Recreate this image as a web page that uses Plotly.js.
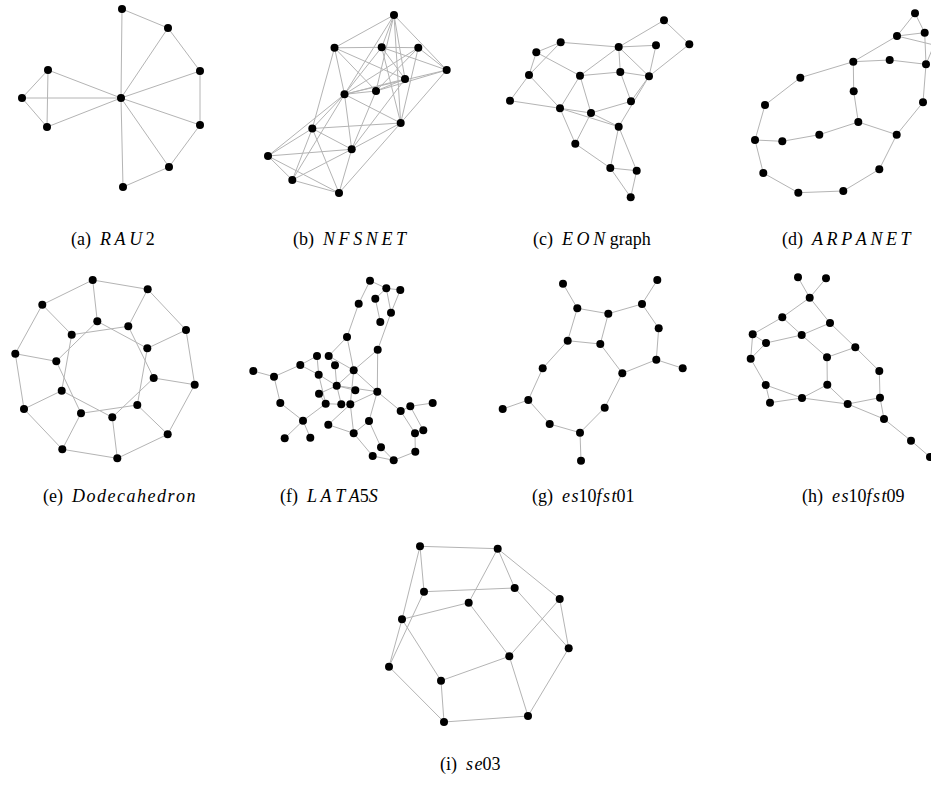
<!DOCTYPE html>
<html>
<head>
<meta charset="utf-8">
<script src="https://cdn.plot.ly/plotly-3.0.1.min.js"></script>
<style>html,body{margin:0;padding:0;background:#fff;}#chart{width:931px;height:789px;}</style>
</head>
<body>
<div id="chart"></div>
<script>
// ---- Data: node coordinates (local panel units) and edge lists ----
const rauX = [122,168,200,200,169,123,121,48,22,47];
const rauY = [9,28,71,125,167,187,98,70,98,127];
const rauEdges = [[0,1],[1,2],[2,3],[3,4],[4,5],[6,0],[6,1],[6,2],[6,3],[6,4],[6,5],[6,7],[6,8],[6,9],[7,8],[7,9],[8,9]];

const nsfX = [144,84.5,131.7,168.3,196.7,155,126,94.5,150.7,62.3,101.7,18,42.3,89];
const nsfY = [15,47.8,47.3,47.7,70,79,91,94.3,123,128.5,149.3,156,180,193];
const nsfEdges = [[0,1],[0,2],[0,4],[0,5],[0,6],[0,7],[0,8],[1,2],[1,5],[1,6],[1,7],[1,9],
  [2,3],[2,4],[2,5],[2,7],[2,8],[3,4],[3,6],[3,7],[3,8],[4,6],[4,7],[4,8],[5,6],[5,7],[5,10],
  [6,7],[6,10],[7,8],[7,9],[7,10],[7,11],[7,12],[8,9],[8,10],[8,13],[9,10],[9,11],[9,12],[9,13],
  [10,11],[10,12],[10,13],[11,12],[11,13],[12,13]];

const eonX = [169,194.3,161,123.7,65.7,41.3,34,85,125.3,154,15,65,96,136,123.7,80.3,115.3,141.7,135.7];
const eonY = [20.3,44.3,45.3,47,42.3,52.3,75,75.7,72,76.3,100.7,108.3,113,101.3,126.7,143.7,168,170.7,197.3];
const eonEdges = [[4,5],[4,3],[4,6],[5,6],[5,7],[6,10],[6,11],[10,11],[3,0],[3,2],[3,8],[3,9],[3,7],
  [0,1],[1,9],[2,9],[7,8],[8,9],[7,11],[7,12],[8,13],[9,13],[9,14],[12,13],[11,12],[11,14],[12,14],
  [11,15],[12,15],[14,16],[14,17],[15,16],[16,17],[16,18],[17,18]];

const arpX = [185,194.7,167,196,159.7,123.3,70.3,35,123.7,128.3,193,166.7,89.3,52.3,25,33.3,149.3,68.3,113.3,204];
const arpY = [13.3,32.7,36,64.3,60,61.7,77.7,105,91.3,122,102.3,134.7,134.7,141.3,140,173,169.3,192.7,191,45];
const arpEdges = [[0,1],[0,2],[1,2],[1,3],[2,19],[3,19],[2,5],[5,4],[4,3],[5,8],[8,9],[9,12],[9,11],
  [12,13],[13,14],[14,7],[7,6],[6,5],[14,15],[15,17],[17,18],[18,16],[16,11],[11,10],[10,3]];

const dodX = [92.7,147.7,186,194.7,167.7,117.3,62.3,24,15.3,42.3, 97.3,128.3,147.3,153.7,137.3,112.3,81,61.7,56.3,71.7];
const dodY = [15,24.3,65,119.7,169.3,193.3,184.3,144,88.7,39.7, 56.3,61.3,83.3,113,140,152.3,148.3,125.7,96.3,69.7];
const dodEdges = [[0,1],[1,2],[2,3],[3,4],[4,5],[5,6],[6,7],[7,8],[8,9],[9,0],
  [0,10],[1,11],[2,12],[3,13],[4,14],[5,15],[6,16],[7,17],[8,18],[9,19],
  [10,12],[11,13],[12,14],[13,15],[14,16],[15,17],[16,18],[17,19],[18,10],[19,11]];

const lataX = [130,146.3,160.3,135.3,118.7,151,140.3,107,137.7,77,88.7,13.3,60.3,95,34,78.7,113.7,96.7,115.3,137.3,
  79,40.3,85.7,101.3,110.3,160.7,170.3,192.7,63,88.3,129,113.7,44.7,70.3,175,183.3,141,132.7,153.7,175.3];
const lataY = [15.7,23.3,25,33.7,38.7,47.7,57,72,84.7,91,91,106,100,100.3,111.7,109.7,105.3,120.7,125.3,126.7,
  128.7,138,138.7,139.3,139.3,146,141.3,138,155.7,159.7,156,168.3,173.3,172.7,168.3,165.3,182.3,191,195.3,186.7];
const lataEdges = [[0,4],[0,1],[1,3],[1,2],[1,5],[2,5],[3,6],[5,8],[4,7],[7,10],[7,16],[8,16],[8,19],
  [11,14],[14,12],[12,9],[12,15],[14,21],[21,28],[28,32],[28,33],[28,22],[9,15],[10,16],[13,17],[15,17],
  [15,22],[17,20],[17,16],[17,18],[17,23],[17,19],[16,24],[16,19],[22,23],[24,19],[29,24],[29,31],[24,31],
  [31,30],[19,30],[19,25],[30,36],[31,37],[37,38],[38,39],[39,34],[34,35],[35,26],[25,34],[26,27],[25,26],
  [13,10],[20,22],[36,38]];

const es01X = [73,87.3,118.3,152,167.3,168.7,166.3,192.7,77.7,110.3,132.3,52.7,38.3,12.7,59.7,90,91,114.7];
const es01Y = [18.7,43.3,48.7,39,15,63.3,94.7,103.3,75.7,79,108.3,103.3,135,144,159,167.7,195.7,142.7];
const es01Edges = [[0,1],[1,2],[2,3],[3,4],[3,5],[5,6],[6,7],[6,10],[1,8],[2,9],[8,9],[9,10],[8,11],
  [11,12],[12,13],[12,14],[14,15],[15,16],[15,17],[17,10]];

const es09X = [67,95,78.7,51.3,99,21.7,35,70.7,124.3,19.7,96,148.3,34.7,96.3,39,71,116.7,149,153,180,199];
const es09Y = [12.3,13.3,32.7,52.3,58,69.3,78,70,82.3,93.7,92.3,106,120,119.7,137.7,133,139,132.7,154,175.7,192];
const es09Edges = [[0,2],[1,2],[2,3],[2,4],[3,5],[3,7],[5,6],[5,9],[6,9],[6,7],[7,4],[7,10],[4,8],[8,11],
  [10,8],[10,13],[9,12],[12,14],[12,15],[14,15],[13,15],[13,16],[15,16],[16,17],[11,17],[17,18],[16,18],
  [18,19],[19,20]];

const se03X = [60,137.7,64,154.7,108.7,199.7,42,208.7,149.3,29,81,84,168];
const se03Y = [41.3,43.7,86.7,83,97.7,94,114.3,143.3,151.3,161.7,175.7,217,211];
const se03Edges = [[0,1],[0,2],[0,6],[6,9],[2,9],[2,3],[1,3],[1,4],[1,5],[4,6],[4,8],[3,7],[5,8],[5,7],
  [6,10],[8,10],[9,11],[10,11],[8,12],[7,12],[11,12]];

// caption pieces: label, italic name parts
const captionLabels = ['(a)','(b)','(c)','(d)','(e)','(f)','(g)','(h)','(i)'];
const captionNames = [
  '<i>R\u2009A\u2009U</i>\u20092',
  '<i>N\u2009F\u2009S\u2009N\u2009E\u2009T</i>',
  '<i>E\u2009O\u2009N</i> graph',
  '<i>A\u2009R\u2009P\u2009A\u2009N\u2009E\u2009T</i>',
  '<i>D\u200Ao\u200Ad\u200Ae\u200Ac\u200Aa\u200Ah\u200Ae\u200Ad\u200Ar\u200Ao\u200An</i>',
  '<i>L\u2009A\u2009T\u2009A</i>5<i>S</i>',
  '<i>e\u200As</i>10<i>f\u200As\u200At</i>01',
  '<i>e\u200As</i>10<i>f\u200As\u200At</i>09',
  '<i>s\u200Ae</i>03'
];

// ---- Layout (panel boxes in page pixels) ----
const W = 931, H = 789;
const graphs = [
  {x:rauX, y:rauY, e:rauEdges, box:[0,0,230,200]},
  {x:nsfX, y:nsfY, e:nsfEdges, box:[250,0,220,200]},
  {x:eonX, y:eonY, e:eonEdges, box:[495,0,210,200]},
  {x:arpX, y:arpY, e:arpEdges, box:[730,0,201,200]},
  {x:dodX, y:dodY, e:dodEdges, box:[0,265,230,210]},
  {x:lataX, y:lataY, e:lataEdges, box:[240,265,210,210]},
  {x:es01X, y:es01Y, e:es01Edges, box:[490,265,210,210]},
  {x:es09X, y:es09Y, e:es09Edges, box:[731,265,200,210]},
  {x:se03X, y:se03Y, e:se03Edges, box:[360,505,230,230]}
];
const captionPos = [[113,239],[350,239],[592,239],[847,239],[119,496],[329,496],[583,496],[853,496],[470,764]];

const traces = [];
const layout = {
  width: W, height: H, margin:{l:0,r:0,t:0,b:0},
  paper_bgcolor:'#fff', plot_bgcolor:'rgba(0,0,0,0)',
  showlegend:false, annotations:[]
};

graphs.forEach((g, k) => {
  const n = k + 1;
  const xa = n === 1 ? 'x' : 'x' + n;
  const ya = n === 1 ? 'y' : 'y' + n;
  const ex = [], ey = [];
  g.e.forEach(([a,b]) => { ex.push(g.x[a], g.x[b], null); ey.push(g.y[a], g.y[b], null); });
  traces.push({type:'scatter', mode:'lines', x:ex, y:ey, xaxis:xa, yaxis:ya,
    line:{color:'#b4b4b4', width:1}, hoverinfo:'skip', cliponaxis:false});
  traces.push({type:'scatter', mode:'markers', x:g.x, y:g.y, xaxis:xa, yaxis:ya,
    marker:{color:'#000', size:8, line:{width:0}}, cliponaxis:false});
  const [x0,y0,w,h] = g.box;
  const axx = {domain:[x0/W,(x0+w)/W], range:[0,w], visible:false, fixedrange:true};
  const axy = {domain:[1-(y0+h)/H, 1-y0/H], range:[h,0], visible:false, fixedrange:true};
  if (n > 1) { axx.anchor = ya; axy.anchor = xa; }
  layout[n === 1 ? 'xaxis' : 'xaxis' + n] = axx;
  layout[n === 1 ? 'yaxis' : 'yaxis' + n] = axy;
  layout.annotations.push({
    xref:'paper', yref:'paper', x:captionPos[k][0]/W, y:1-captionPos[k][1]/H,
    xanchor:'center', yanchor:'middle', showarrow:false,
    text: captionLabels[k] + '\u2002' + captionNames[k],
    font:{family:'Liberation Serif, Times New Roman, serif', size:18, color:'#000'}
  });
});

Plotly.newPlot('chart', traces, layout, {staticPlot:true, displayModeBar:false});
</script>
</body>
</html>
